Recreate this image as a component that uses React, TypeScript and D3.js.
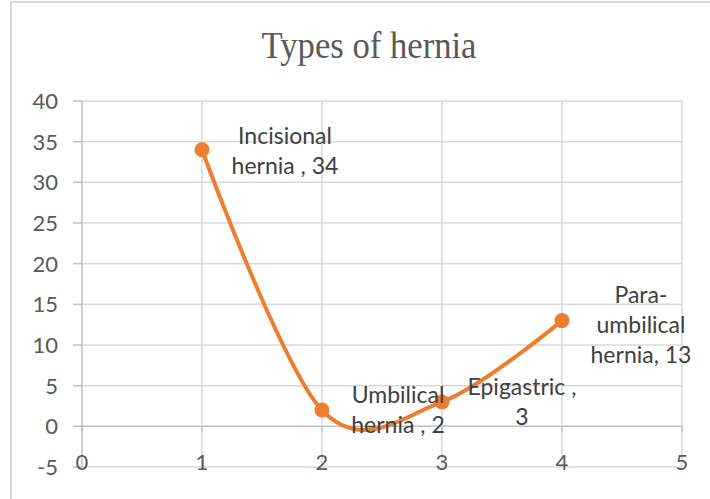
import React from "react";
import { scaleLinear, line, curveCardinal, range } from "d3";

// chart data
const xValues: number[] = [1, 2, 3, 4];
const yValues: number[] = [34, 2, 3, 13];
const pointLabels: string[][] = [
  ["Incisional", "hernia , 34"],
  ["Umbilical", "hernia , 2"],
  ["Epigastric ,", "3"],
  ["Para-", "umbilical", "hernia, 13"],
];
const xTicks: number[] = [0, 1, 2, 3, 4, 5];
const yTicks: number[] = range(-5, 41, 5);
const title = "Types of hernia";

// label placement (pixels, relative to the point)
const labelDx: number[] = [83, 76, 80, 79];
const labelDy: number[] = [-6, -7, -7, -18];

const W = 710;
const H = 499;
const ORANGE = "#ED7D31";
const GRID = "#d9d9d9";
const FONT = "Lato, 'Liberation Sans', sans-serif";

const App: React.FC = () => {
  const x = scaleLinear().domain([0, 5]).range([82, 682]);
  const y = scaleLinear().domain([-5, 40]).range([467, 101]);

  const pts: [number, number][] = xValues.map((v, i) => [x(v), y(yValues[i])]);
  const path = line().curve(curveCardinal.tension(0))(pts) || "";

  return (
    <svg
      width={W}
      height={H}
      style={{ position: "absolute", left: 0, top: 0, display: "block", background: "#fff" }}
    >
      {/* chart frame (cropped) */}
      <path d={`M11,${H + 5} V2 H${W + 5}`} fill="none" stroke={GRID} strokeWidth={2} />

      <text
        x={369}
        y={58}
        textAnchor="middle"
        fontFamily="'Liberation Serif', 'Times New Roman', serif"
        fontSize={37}
        fill="#595959"
        textLength={215}
        lengthAdjust="spacingAndGlyphs"
      >
        {title}
      </text>

      {/* horizontal gridlines */}
      {yTicks.map((t) => (
        <line
          key={"h" + t}
          x1={x(0)}
          x2={x(5)}
          y1={y(t)}
          y2={y(t)}
          stroke={t === 0 ? "#bfbfbf" : GRID}
          strokeWidth={1.5}
        />
      ))}
      {/* vertical gridlines */}
      {xTicks.map((t) => (
        <line
          key={"v" + t}
          x1={x(t)}
          x2={x(t)}
          y1={y(40)}
          y2={y(-5)}
          stroke={t === 0 ? "#bfbfbf" : GRID}
          strokeWidth={1.5}
        />
      ))}
      {/* y ticks */}
      {yTicks.map((t) => (
        <line key={"yt" + t} x1={x(0) - 9} x2={x(0)} y1={y(t)} y2={y(t)} stroke="#bfbfbf" strokeWidth={1.5} />
      ))}
      {/* x ticks on zero axis */}
      {xTicks.map((t) => (
        <line key={"xt" + t} x1={x(t)} x2={x(t)} y1={y(0)} y2={y(0) + 6} stroke="#bfbfbf" strokeWidth={1.5} />
      ))}

      {yTicks.map((t) => (
        <text
          key={"yl" + t}
          x={58}
          y={y(t)}
          dy="0.36em"
          textAnchor="end"
          fontFamily={FONT}
          fontSize={22}
          fill="#595959"
        >
          {t}
        </text>
      ))}
      {xTicks.map((t) => (
        <text
          key={"xl" + t}
          x={x(t)}
          y={y(-5) + 3}
          textAnchor="middle"
          fontFamily={FONT}
          fontSize={22}
          fill="#595959"
        >
          {t}
        </text>
      ))}

      <path d={path} fill="none" stroke={ORANGE} strokeWidth={4} strokeLinecap="round" />
      {pts.map(([px, py], i) => (
        <circle key={"p" + i} cx={px} cy={py} r={7.5} fill={ORANGE} />
      ))}

      {pts.map(([px, py], i) => (
        <text
          key={"lab" + i}
          textAnchor="middle"
          fontFamily={FONT}
          fontSize={23}
          fill="#404040"
        >
          {pointLabels[i].map((s, j) => (
            <tspan key={j} x={px + labelDx[i]} y={py + labelDy[i] + j * 30}>
              {s}
            </tspan>
          ))}
        </text>
      ))}
    </svg>
  );
};

export default App;
